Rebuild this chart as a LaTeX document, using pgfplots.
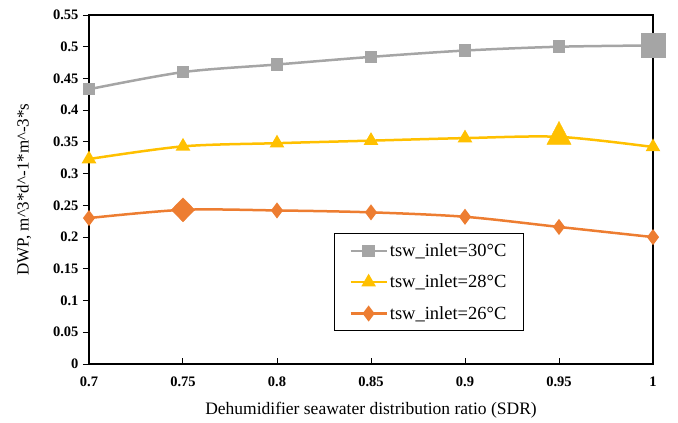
\documentclass[border=0pt]{standalone}
\usepackage{fontspec}
\setmainfont{Liberation Serif}
\usepackage{pgfplots}
\pgfplotsset{compat=1.18}
\definecolor{sgray}{HTML}{A5A5A5}
\definecolor{syellow}{HTML}{FFC000}
\definecolor{sorange}{HTML}{ED7D31}
\begin{document}
\begin{tikzpicture}
\begin{axis}[
  scale only axis,
  width=564bp, height=349bp,
  xmin=0.7, xmax=1, ymin=0, ymax=0.55,
  clip=false,
  xtick={0.7,0.75,0.8,0.85,0.9,0.95,1},
  ytick={0,0.05,0.1,0.15,0.2,0.25,0.3,0.35,0.4,0.45,0.5,0.55},
  xtick pos=bottom, ytick pos=left,
  xtick align=inside, ytick align=outside,
  major tick length=6bp,
  tick style={black, line width=1bp},
  axis line style={black, line width=1.2bp},
  /pgf/number format/fixed,
  /pgf/number format/assume math mode=true,
  ticklabel style={font=\fontsize{14.5bp}{16bp}\selectfont\bfseries},
  xticklabel style={yshift=-9bp},
  yticklabel style={xshift=-1bp},
  xlabel={Dehumidifier seawater distribution ratio (SDR)},
  ylabel={DWP, m\textasciicircum 3*d\textasciicircum -1*m\textasciicircum -3*s},
  xlabel style={font=\fontsize{17.5bp}{19bp}\selectfont, at={(axis description cs:0.5,-0.132)}, anchor=center},
  ylabel style={font=\fontsize{17bp}{19bp}\selectfont, at={(axis description cs:-0.115,0.5)}, anchor=center},
  legend style={at={(0.434,0.375)}, anchor=north west, draw=black, line width=1.2bp,
    font=\fontsize{18.5bp}{20bp}\selectfont, row sep=13bp,
    inner xsep=15bp, inner ysep=8bp},
  legend cell align=left,
  legend image code/.code={\draw[#1, line width=2.5bp] (0bp,0bp) -- (36bp,0bp); \draw[#1, line width=2.5bp] plot coordinates {(18bp,0bp)};},
]
\addplot[sgray, line width=2.5bp, smooth, mark=square*, mark size=5bp, mark options={solid}]
  coordinates {(0.7,0.433) (0.75,0.460) (0.8,0.472) (0.85,0.484) (0.9,0.494) (0.95,0.500) (1,0.502)};
\addlegendentry{tsw\_inlet=30°C}
\addplot[syellow, line width=2.5bp, smooth, mark=triangle*, mark size=6bp, mark options={solid}]
  coordinates {(0.7,0.323) (0.75,0.343) (0.8,0.348) (0.85,0.352) (0.9,0.356) (0.95,0.358) (1,0.342)};
\addlegendentry{tsw\_inlet=28°C}
\addplot[sorange, line width=2.5bp, smooth, mark=diamond*, mark size=6bp, mark options={solid}]
  coordinates {(0.7,0.230) (0.75,0.243) (0.8,0.242) (0.85,0.239) (0.9,0.232) (0.95,0.216) (1,0.200)};
\addlegendentry{tsw\_inlet=26°C}
\addplot[sgray, only marks, mark=square*, mark size=12bp, forget plot] coordinates {(1,0.502)};
\addplot[syellow, only marks, mark=triangle*, mark size=14bp, mark options={yscale=1.1}, forget plot] coordinates {(0.95,0.358)};
\addplot[sorange, only marks, mark=diamond*, mark size=12bp, mark options={xscale=1.3}, forget plot] coordinates {(0.75,0.243)};
\coordinate (ll) at (rel axis cs:0,0);
\coordinate (ur) at (rel axis cs:1,1);
\end{axis}
\pgfresetboundingbox
\path ([shift={(-89bp,-59bp)}]ll) rectangle ([shift={(25bp,15bp)}]ur);
\end{tikzpicture}
\end{document}
